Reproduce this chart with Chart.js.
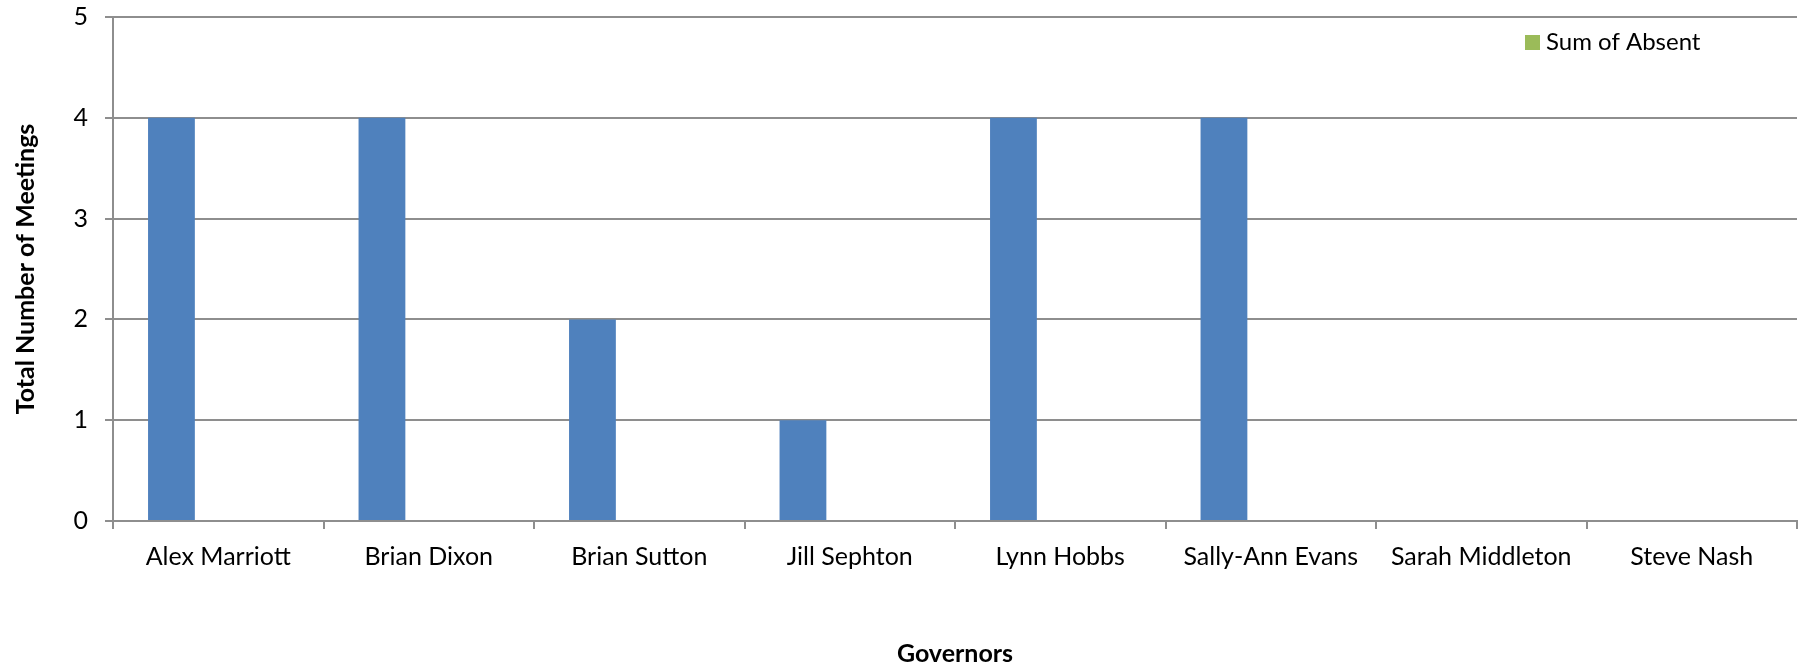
<!DOCTYPE html>
<html>
<head>
<meta charset="utf-8">
<script src="https://cdn.jsdelivr.net/npm/chart.js@4/dist/chart.umd.min.js"></script>
<style>
  html, body { margin: 0; padding: 0; background: #ffffff; }
  #wrap { width: 1801px; height: 669px; position: relative; }
</style>
</head>
<body>
<div id="wrap"><canvas id="c"></canvas></div>
<script>
const governors = ["Alex Marriott", "Brian Dixon", "Brian Sutton", "Jill Sephton", "Lynn Hobbs", "Sally-Ann Evans", "Sarah Middleton", "Steve Nash"];
const sumOfMeetings = [4, 4, 2, 1, 4, 4, 0, 0];
const sumOfAbsent = [0, 0, 0, 0, 0, 0, 0, 0];
const sumOfOther = [0, 0, 0, 0, 0, 0, 0, 0];
const yTicks = [0, 1, 2, 3, 4, 5];
const xTitle = "Governors";
const yTitle = "Total Number of Meetings";

const FONT = "Lato, 'Open Sans', sans-serif";
const GRID = "#8e8e8e";

const legendPlugin = {
  id: 'customLegend',
  afterDraw(chart) {
    const ds = chart.data.datasets[1];
    const ca = chart.chartArea;
    const ctx = chart.ctx;
    ctx.save();
    const x = ca.right - 272;
    const y = ca.top + 18;
    ctx.fillStyle = ds.backgroundColor;
    ctx.fillRect(x, y, 15, 15);
    ctx.fillStyle = '#000';
    ctx.font = "24px " + FONT;
    ctx.textBaseline = 'middle';
    ctx.textAlign = 'left';
    ctx.fillText(ds.label, x + 21, y + 7);
    ctx.restore();
  }
};

new Chart(document.getElementById('c'), {
  type: 'bar',
  data: {
    labels: governors,
    datasets: [
      { label: "Sum of Meetings", data: sumOfMeetings, backgroundColor: "#4F81BD", borderWidth: 0 },
      { label: "Sum of Absent", data: sumOfAbsent, backgroundColor: "#9BBB59", borderWidth: 0 },
      { label: "Sum of Other", data: sumOfOther, backgroundColor: "#C0504D", borderWidth: 0 }
    ]
  },
  options: {
    responsive: true,
    maintainAspectRatio: false,
    animation: false,
    datasets: { bar: { categoryPercentage: 0.667, barPercentage: 1.0 } },
    layout: { padding: { left: 0, right: 4, top: 17, bottom: 0 } },
    plugins: {
      legend: { display: false },
      tooltip: { enabled: false }
    },
    scales: {
      x: {
        grid: { offset: true, drawOnChartArea: false, drawTicks: true, tickLength: 8, color: GRID, lineWidth: 2 },
        border: { color: GRID, width: 2 },
        ticks: { color: '#000', font: { family: FONT, size: 25 }, padding: 13, maxRotation: 0, autoSkip: false },
        title: { display: true, text: xTitle, color: '#000', font: { family: FONT, size: 25, weight: 'bold' }, padding: { top: 0, bottom: 0 } },
        afterFit(scale) { scale.height = 148; scale.paddingLeft = 0; scale.paddingRight = 0; }
      },
      y: {
        min: 0, max: 5,
        afterBuildTicks(scale) { scale.ticks = yTicks.map(v => ({ value: v })); },
        grid: { drawTicks: true, tickLength: 8, color: GRID, lineWidth: 2 },
        border: { color: GRID, width: 2 },
        ticks: { color: '#000', font: { family: FONT, size: 25 }, padding: 17 },
        title: { display: true, text: yTitle, color: '#000', font: { family: FONT, size: 25, weight: 'bold' }, padding: { top: 11, bottom: 0 } },
        afterFit(scale) { scale.width = 113; scale.paddingTop = 0; scale.paddingBottom = 0; }
      }
    }
  },
  plugins: [legendPlugin]
});
</script>
</body>
</html>
